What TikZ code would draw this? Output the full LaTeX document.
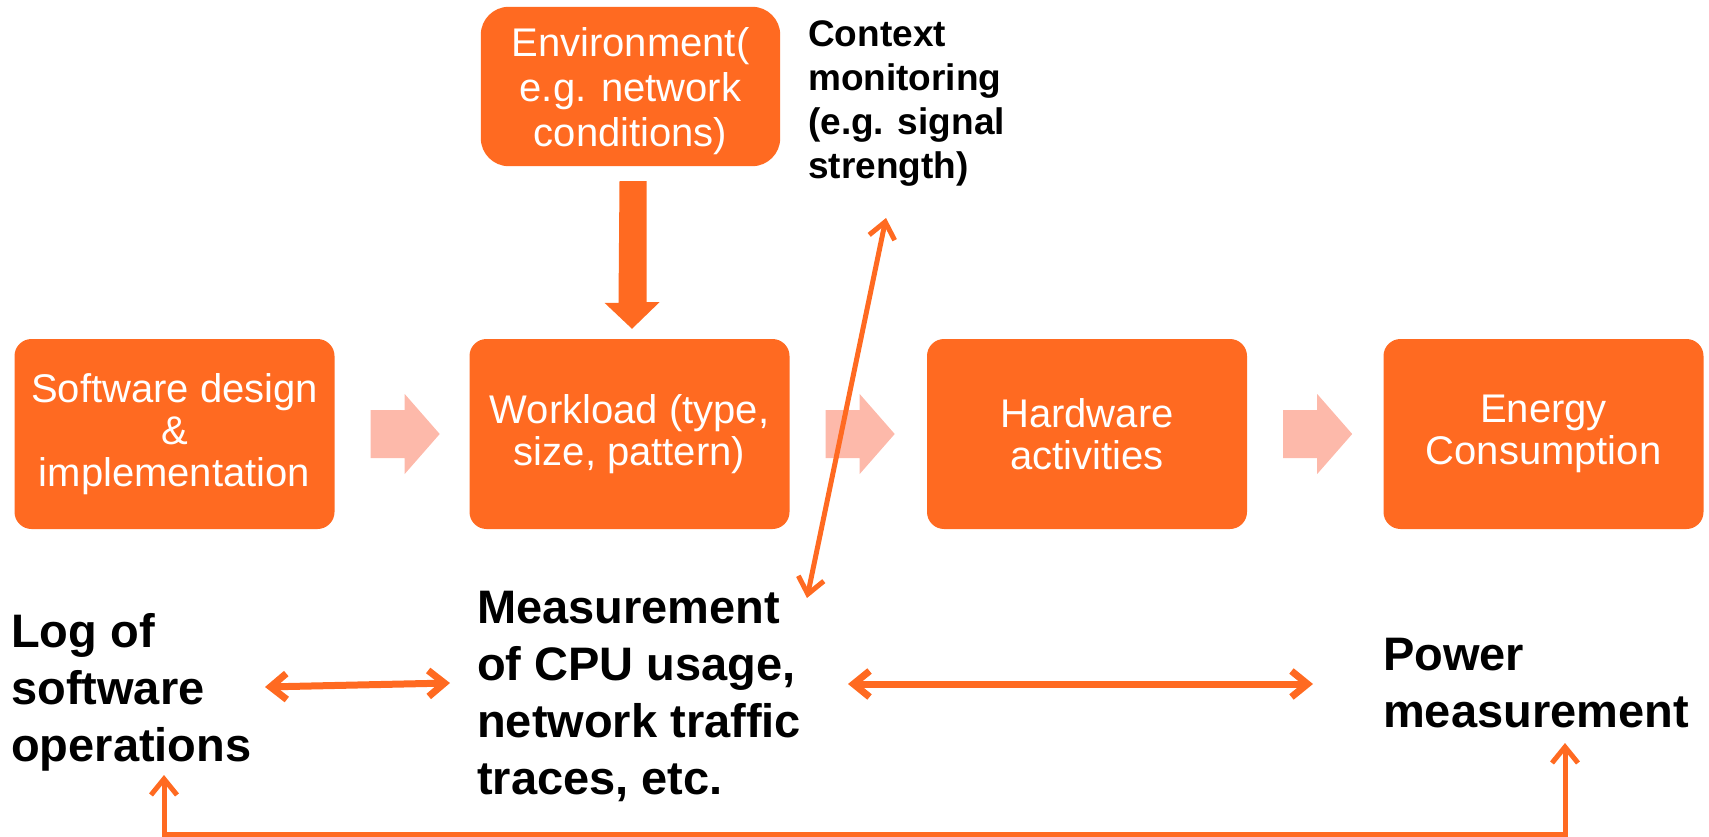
\documentclass[tikz,border=0pt]{standalone}
\usepackage{fontspec}
\setmainfont{Liberation Sans}
\usetikzlibrary{arrows.meta,calc}
\definecolor{org}{RGB}{255,106,33}
\definecolor{pale}{RGB}{253,185,170}
\begin{document}
\begin{tikzpicture}[x=1pt,y=-1pt,
  box/.style={fill=org, rounded corners=17pt, text=white, align=center,
    minimum width=320pt, minimum height=190pt, inner sep=0pt,
    font=\fontsize{40}{42}\selectfont},
  envbox/.style={box, rounded corners=28pt, minimum width=299pt, minimum height=159pt,
    font=\fontsize{40}{45}\selectfont},
  bigtxt/.style={anchor=north west, inner sep=0pt, align=left,
    font=\fontsize{47}{57}\selectfont\bfseries},
  ctxtxt/.style={anchor=north west, inner sep=0pt, align=left,
    font=\fontsize{37}{44}\selectfont\bfseries},
  link/.style={draw=org, line width=#1, {Straight Barb[length=16pt,width=26pt]}-{Straight Barb[length=16pt,width=26pt]}},
  link/.default=5pt
]
\useasboundingbox (0,0) rectangle (1709,837);

% boxes
\node[box] (b1) at (174.5,434) {Software design\\\&\\implementation};
\node[box] (b2) at (629.5,434) {Workload (type,\\size, pattern)};
\node[box] (b3) at (1087,434) {Hardware\\activities};
\node[box] (b4) at (1543.5,434) {Energy\\Consumption};
\node[envbox, fill=none] (env) at (630.5,86.5) {};
\fill[org, rounded corners=28pt] (env.north west) rectangle (env.south east);
\node[text=white, align=center, inner sep=0pt, font=\fontsize{40}{45}\selectfont]
  (envtxt) at ($(env.center)+(0,5)$) {Environment(\\e.g. network\\conditions)};

% pale block arrows between boxes
\foreach \a/\b in {b1/b2,b2/b3,b3/b4}{
  \fill[pale] ($(\a.east)+(36,-24)$) -- ++(34,0) -- ++(0,-16) -- ++(35,40)
    -- ++(-35,40) -- ++(0,-16) -- ++(-34,0) -- cycle;
}

% thick arrow from environment to workload
\fill[org] ($(env.south)+(-11,15)$) -- ++(27,0) -- ++(0,121) -- ++(13,0)
  -- ($(b2.north)+(2.5,-10)$) -- ++(-27.5,-26) -- ++(14,0) -- cycle;

% texts
\node[ctxtxt] (ctx) at (808,20) {Context\\monitoring\\(e.g. signal\\strength)};
\node[bigtxt] (log) at (11,613) {Log of\\software\\operations};
\node[bigtxt] (meas) at (477,591) {Measurement\\of CPU usage,\\network traffic\\traces, etc.};
\node[bigtxt] (pow) at (1383,638) {Power\\measurement};

% connector ends
\coordinate (ctxA) at (807,598);
\coordinate (ctxB) at (886,218);
\coordinate (logR) at (265,687);
\coordinate (measL) at (450,683);
\coordinate (measR) at (848,684);
\coordinate (powL) at (1313,684);
\coordinate (logB) at (164,775);
\coordinate (powB) at (1565,743);

\draw[link=5pt] (ctxA) -- (ctxB);
\draw[link=7pt] (logR) -- (measL);
\draw[link=7pt] (measR) -- (powL);
\draw[link=5pt] (logB) -- (164,834) -- (1565,834) -- (powB);
\end{tikzpicture}
\end{document}
